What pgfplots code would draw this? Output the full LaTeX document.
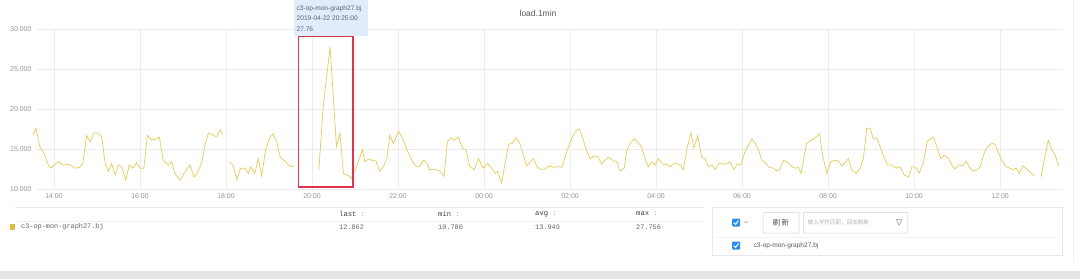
\documentclass[border=0pt]{standalone}
\usepackage{pgfplots}
\pgfplotsset{compat=1.18}
\usepackage{fontspec}
\setmainfont{Liberation Sans}
\setmonofont{Liberation Mono}
\newfontfamily\cjk{Noto Sans CJK SC}
\definecolor{lineyel}{RGB}{230,203,88}
\definecolor{sqyel}{RGB}{222,188,60}
\definecolor{gridgray}{RGB}{236,236,236}
\definecolor{labelgray}{RGB}{150,150,150}
\definecolor{titlegray}{RGB}{90,90,90}
\definecolor{tipbg}{RGB}{224,236,249}
\definecolor{tiptext}{RGB}{85,100,115}
\definecolor{boxred}{RGB}{222,52,78}
\definecolor{cbblue}{RGB}{45,140,235}
\definecolor{bandgray}{RGB}{229,230,229}
\definecolor{linegray}{RGB}{232,232,232}
\pgfplotstableread{
h v
13.51 16.75
13.58 17.6
13.67 15.3
13.77 14.5
13.87 13.0
13.93 12.6
14.01 13.0
14.10 13.4
14.22 13.0
14.33 13.1
14.41 12.9
14.49 12.6
14.59 12.7
14.67 13.2
14.76 16.7
14.84 15.9
14.93 17.0
15.03 17.0
15.11 16.5
15.19 13.2
15.26 12.2
15.34 13.2
15.42 11.75
15.50 13.0
15.57 12.8
15.67 11.1
15.75 13.0
15.84 12.6
15.92 13.3
16.00 12.6
16.09 12.6
16.17 16.7
16.27 16.1
16.39 16.3
16.45 16.5
16.54 13.6
16.66 13.0
16.74 13.4
16.81 11.95
16.93 11.1
17.05 12.2
17.16 13.0
17.26 11.5
17.33 11.95
17.43 13.2
17.51 15.5
17.59 17.0
17.70 16.75
17.78 16.5
17.86 17.4
17.92 16.9
18.00 nan
18.08 13.4
18.16 13.0
18.25 11.2
18.34 12.6
18.44 12.6
18.52 11.95
18.57 12.8
18.67 11.95
18.75 13.8
18.83 11.6
18.92 14.9
19.01 16.3
19.09 16.9
19.18 15.9
19.26 14.0
19.33 13.7
19.43 13.1
19.50 12.8
19.58 12.9
19.90 nan
20.16 12.4
20.26 20.3
20.42 27.76
20.57 15.3
20.65 17.0
20.73 11.9
20.84 11.7
20.92 11.3
21.02 12.6
21.10 13.8
21.17 14.9
21.23 13.4
21.31 13.75
21.39 13.6
21.49 13.5
21.57 12.2
21.66 12.8
21.74 13.8
21.81 16.75
21.89 15.7
22.01 17.2
22.11 16.3
22.24 14.5
22.36 13.2
22.43 12.8
22.50 12.8
22.59 13.6
22.68 13.2
22.74 12.4
22.86 12.5
22.98 12.2
23.07 11.6
23.15 15.9
23.23 16.4
23.31 16.1
23.40 16.5
23.50 15.1
23.58 14.9
23.67 12.8
23.77 12.4
23.87 13.8
23.98 12.6
24.08 13.2
24.18 12.6
24.26 11.95
24.31 12.2
24.41 10.78
24.57 15.6
24.66 15.7
24.74 16.4
24.82 15.9
24.90 14.5
24.99 12.9
25.15 13.8
25.23 12.8
25.32 12.45
25.42 12.5
25.52 12.9
25.61 12.7
25.70 12.8
25.81 12.7
25.91 14.5
26.02 16.1
26.12 17.2
26.22 17.5
26.31 16.1
26.39 14.7
26.47 13.8
26.56 14.1
26.64 14.1
26.74 13.1
26.81 13.6
26.89 13.95
26.99 13.6
27.09 13.4
27.16 12.25
27.26 12.6
27.32 14.9
27.40 15.7
27.49 16.3
27.57 15.9
27.67 15.2
27.74 13.8
27.82 12.8
27.90 13.4
27.98 13.0
28.05 13.8
28.16 13.1
28.25 13.1
28.33 12.8
28.42 13.2
28.52 13.1
28.57 13.0
28.63 12.4
28.73 15.3
28.81 17.0
28.88 15.1
28.97 16.7
29.06 14.0
29.14 13.75
29.22 12.8
29.30 13.0
29.37 12.45
29.47 13.2
29.57 13.1
29.66 13.2
29.72 13.4
29.81 12.45
29.89 13.1
29.97 13.0
30.07 14.7
30.15 15.5
30.23 16.25
30.30 15.8
30.38 14.9
30.46 13.6
30.56 13.2
30.63 12.7
30.73 12.6
30.81 12.25
30.88 12.4
30.96 13.6
31.05 13.4
31.16 12.8
31.23 12.6
31.31 12.7
31.37 11.95
31.50 15.7
31.60 16.1
31.70 16.4
31.80 16.9
31.88 14.0
31.97 11.95
32.06 13.4
32.16 13.6
32.24 13.5
32.32 12.9
32.41 13.4
32.47 13.8
32.55 12.4
32.65 11.95
32.74 12.6
32.82 13.8
32.90 17.6
32.98 17.6
33.05 16.3
33.13 16.4
33.21 15.3
33.30 14.0
33.38 13.0
33.48 13.0
33.58 12.6
33.67 12.8
33.77 11.75
33.87 11.5
33.95 12.8
34.04 12.7
34.12 11.95
34.22 13.4
34.30 15.9
34.37 16.25
34.45 16.5
34.54 15.1
34.62 13.8
34.70 14.25
34.80 13.8
34.88 13.0
34.95 12.5
35.05 13.0
35.13 12.9
35.21 13.5
35.29 12.7
35.37 12.2
35.46 12.4
35.53 12.7
35.63 14.5
35.71 15.3
35.81 15.7
35.88 15.6
35.96 14.5
36.04 13.6
36.12 12.9
36.22 12.6
36.30 12.4
36.37 12.6
36.45 11.95
36.53 12.9
36.62 12.5
36.70 12.1
36.79 11.65
36.87 nan
36.95 11.5
37.12 16.1
37.20 14.9
37.28 14.25
37.36 12.862
}\loaddata
\begin{document}
\begin{tikzpicture}
\begin{scope}[x=1bp,y=-1bp]
  \path[use as bounding box, fill=white] (0,0) rectangle (1080,279);
  \fill[bandgray] (0,271) rectangle (1080,279);
  \draw[linegray!70, line width=0.5bp] (1073.5,0) -- (1073.5,262);
  % title
  \node[font=\fontsize{8.5}{10}\selectfont, text=titlegray] at (538,13.5) {load.1min};
\end{scope}
\begin{axis}[
  at={(37bp,-189bp)}, anchor=south west,
  scale only axis, width=1025bp, height=160bp,
  xmin=13.605, xmax=37.44, ymin=10, ymax=30,
  xtick={14,16,...,36},
  xticklabels={14:00,16:00,18:00,20:00,22:00,00:00,02:00,04:00,06:00,08:00,10:00,12:00},
  ytick={10,15,20,25,30},
  yticklabel style={/pgf/number format/.cd, fixed, fixed zerofill, precision=3, assume math mode=true, /tikz/.cd, xshift=-2bp},
  xticklabel style={yshift=-1.5bp},
  grid=major, major grid style={draw=gridgray, line width=0.6bp},
  axis line style={draw=none}, tick style={draw=none},
  tick label style={font=\fontsize{7}{8}\selectfont, text=labelgray},
  unbounded coords=jump, clip=false,
]
\addplot[lineyel, line width=0.7bp, mark=none] table[x=h, y=v] {\loaddata};
\draw[boxred, line width=1.3bp] (axis cs:19.69,10.25) rectangle (axis cs:20.95,29.1);
\end{axis}
\begin{scope}[x=1bp,y=-1bp]
  % tooltip
  \fill[tipbg] (294,0) rectangle (368,36);
  \node[anchor=west, font=\fontsize{6.6}{7}\selectfont, text=tiptext, inner sep=0pt] at (296.5,8.3) {c3-op-mon-graph27.bj};
  \node[anchor=west, font=\fontsize{6.6}{7}\selectfont, text=tiptext, inner sep=0pt] at (296.5,18.5) {2019-04-22 20:25:00};
  \node[anchor=west, font=\fontsize{6.6}{7}\selectfont, text=tiptext, inner sep=0pt] at (296.5,29.3) {27.76};
  % legend table
  \draw[linegray, line width=0.6bp] (15,207.2) -- (703,207.2);
  \draw[linegray!60, line width=0.5bp] (15,221.5) -- (703,221.5);
  \foreach \xx/\tt in {339/last,438/min,535/avg,636/max}{
    \node[anchor=west, inner sep=0pt, font=\ttfamily\fontsize{7.2}{8}\selectfont, text=black!75] at (\xx,214) {\tt~\textcolor{black!35}{:}};
  }
  \fill[sqyel] (9.6,223.8) rectangle (15.4,229.6);
  \node[anchor=west, inner sep=0pt, font=\ttfamily\fontsize{6.9}{8}\selectfont, text=black!60] at (21,226.8) {c3-op-mon-graph27.bj};
  \foreach \xx/\tt in {339/12.862,438/10.780,535/13.949,636/27.756}{
    \node[anchor=west, inner sep=0pt, font=\ttfamily\fontsize{6.9}{8}\selectfont, text=black!60] at (\xx,226.8) {\tt};
  }
  % right panel
  \draw[linegray, line width=0.6bp] (712,207.5) rectangle (1062,255);
  \draw[linegray!60, line width=0.5bp] (716,237.5) -- (1058,237.5);
  \fill[cbblue, rounded corners=1bp] (732,218.5) rectangle (740,226.5);
  \draw[white, line width=1bp] (733.7,222.6) -- (735.5,224.5) -- (738.5,220.5);
  \draw[black!30, line width=0.5bp] (744.3,221.2) -- (746,222.9) -- (747.7,221.2);
  \draw[linegray!90!black, line width=0.5bp, rounded corners=1bp] (763,212.4) rectangle (799,233);
  \node[font=\cjk\fontsize{7.5}{8}\selectfont, text=black!70] at (781,222.7) {刷\,新};
  \draw[linegray!90!black, line width=0.5bp, rounded corners=1bp] (803.4,212.4) rectangle (907.8,233);
  \node[anchor=west, inner sep=0pt, font=\cjk\fontsize{5.6}{7}\selectfont, text=black!30] at (807.5,222.7) {输入字符匹配，回车刷新};
  \draw[black!45, line width=0.5bp] (896.3,219.6) -- (902,219.6) -- (899.15,225.2) -- cycle;
  \fill[cbblue, rounded corners=1bp] (732,241.5) rectangle (740,249.5);
  \draw[white, line width=1bp] (733.7,245.6) -- (735.5,247.5) -- (738.5,243.5);
  \node[anchor=west, inner sep=0pt, font=\fontsize{6.6}{8}\selectfont, text=black!65] at (753.5,245.6) {c3-op-mon-graph27.bj};
\end{scope}
\end{tikzpicture}
\end{document}
